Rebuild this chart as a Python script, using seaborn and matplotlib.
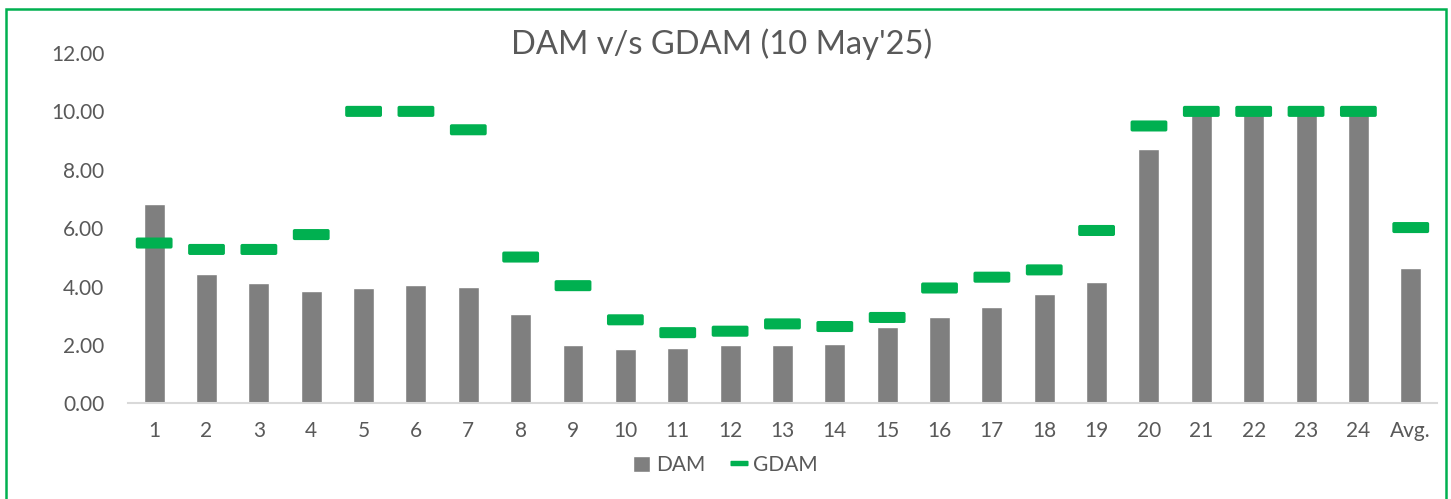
import matplotlib
matplotlib.use('Agg')
import matplotlib.pyplot as plt
import matplotlib.patches as mpatches
import seaborn as sns
import pandas as pd

hours = [str(h) for h in range(1, 25)] + ['Avg.']
dam = [6.82, 4.44, 4.13, 3.85, 3.95, 4.05, 3.98, 3.05, 1.98, 1.85, 1.91, 1.99,
       1.99, 2.03, 2.62, 2.94, 3.30, 3.73, 4.14, 8.72, 10.00, 10.00, 10.00, 10.00, 4.64]
gdam = [5.49, 5.27, 5.27, 5.78, 10.00, 10.00, 9.37, 5.01, 4.03, 2.86, 2.42, 2.47,
        2.72, 2.63, 2.94, 3.95, 4.32, 4.57, 5.92, 9.50, 10.00, 10.00, 10.00, 10.00, 6.02]

df = pd.DataFrame({'hour': hours, 'DAM': dam, 'GDAM': gdam})

sns.set_style('white')
plt.rcParams['font.family'] = ['Lato', 'DejaVu Sans']
txt = '#595959'

fig = plt.figure(figsize=(14.51, 4.99), dpi=100)
ax = fig.add_axes([0.0882, 0.1918, 0.9021, 0.702])

sns.barplot(data=df, x='hour', y='DAM', color='#7F7F7F', width=0.4,
            saturation=1, label='DAM', ax=ax)

# rounded dash marker like Excel
dash = mpatches.FancyBboxPatch((-1, -0.3), 2, 0.6,
                               boxstyle='round,pad=0,rounding_size=0.1').get_path()
sns.scatterplot(data=df, x='hour', y='GDAM', marker=dash, s=26.5 ** 2,
                color='#00B050', edgecolor='none', label='GDAM', ax=ax, zorder=3)

ax.set_ylim(0, 12)
ax.set_xlim(-0.5, len(hours) - 0.5)
ax.set_yticks(range(0, 13, 2))
ax.set_yticklabels([f'{v:.2f}' for v in range(0, 13, 2)])
ax.set_xlabel('')
ax.set_ylabel('')
ax.tick_params(axis='both', length=0, labelsize=15, colors=txt)
ax.tick_params(axis='y', pad=17)
ax.tick_params(axis='x', pad=13)
for s in ['top', 'right', 'left']:
    ax.spines[s].set_visible(False)
ax.spines['bottom'].set_color('#D9D9D9')
ax.spines['bottom'].set_linewidth(1.5)

handles, labels = ax.get_legend_handles_labels()
order = [labels.index('DAM'), labels.index('GDAM')]
leg_dash = plt.Line2D([], [], linestyle='none', marker=dash, markersize=13,
                      color='#00B050', markeredgewidth=0)
ax.legend([handles[order[0]], leg_dash], ['DAM', 'GDAM'],
          loc='center', bbox_to_anchor=(0.5, 0.068), bbox_transform=fig.transFigure,
          ncol=2, frameon=False, fontsize=15, labelcolor=txt,
          handlelength=0.8, handleheight=0.8, handletextpad=0.3, columnspacing=1.2)

fig.text(0.497, 0.912, "DAM v/s GDAM (10 May'25)", ha='center', va='center',
         fontsize=23.5, color=txt)

border = mpatches.Rectangle((6 / 1451, -0.02), 1440 / 1451, 1 - 9 / 499 + 0.02,
                            transform=fig.transFigure, fill=False,
                            edgecolor='#00B050', linewidth=1.8, clip_on=False)
fig.patches.append(border)

fig.savefig('out.png', dpi=100)
